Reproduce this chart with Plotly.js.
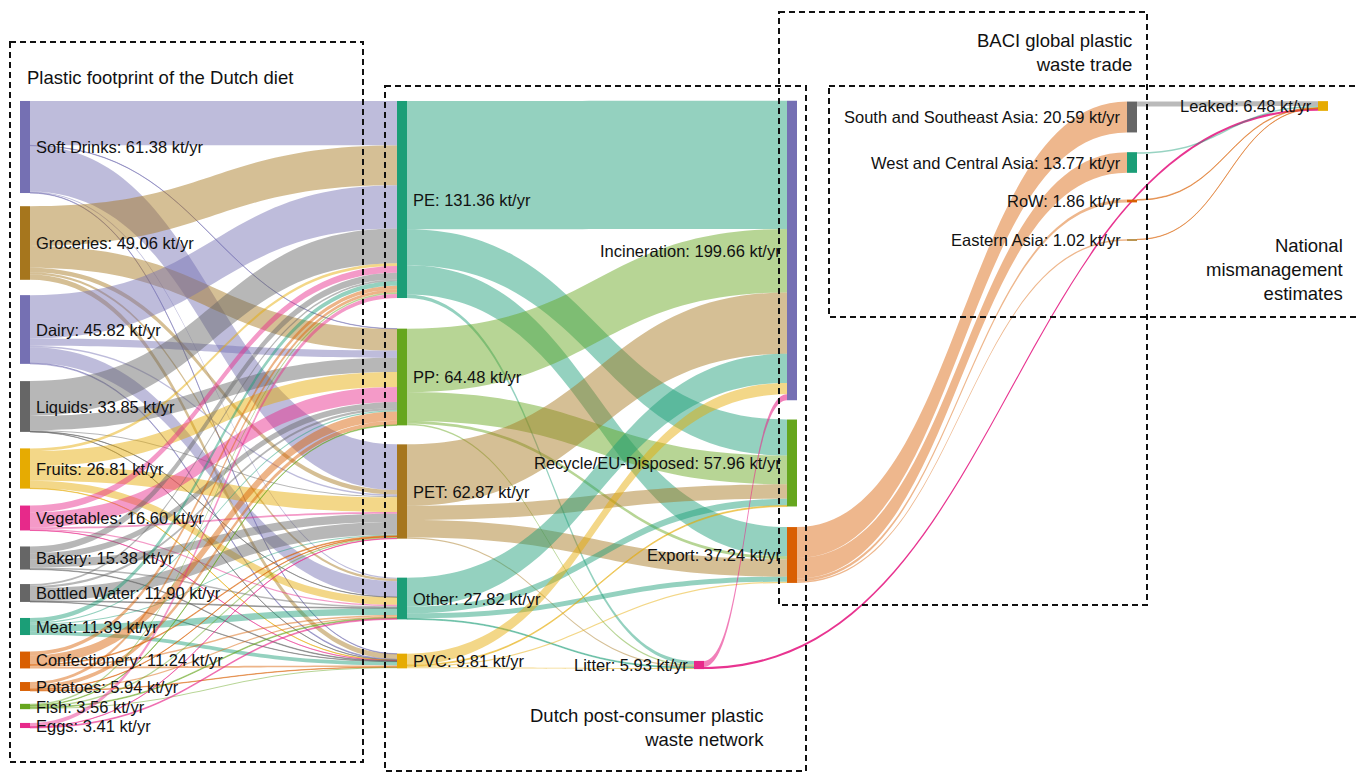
<!DOCTYPE html>
<html><head><meta charset="utf-8">
<script src="https://cdn.plot.ly/plotly-3.0.1.min.js"></script>
<style>html,body{margin:0;padding:0;background:#fff;}</style>
</head><body>
<div id="chart" style="width:1359px;height:775px;"></div>
<script>
// ---------- DATA ----------
const foodNames = ['Soft Drinks','Groceries','Dairy','Liquids','Fruits','Vegetables','Bakery','Bottled Water','Meat','Confectionery','Potatoes','Fish','Eggs'];
const foodTotals = [61.38,49.06,45.82,33.85,26.81,16.60,15.38,11.90,11.39,11.24,5.94,3.56,3.41];
const polymerNames = ['PE','PP','PET','Other','PVC'];
const polymerTotals = [131.36,64.48,62.87,27.82,9.81];
const fateNames = ['Incineration','Recycle/EU-Disposed','Export','Litter'];
const fateTotals = [199.66,57.96,37.24,5.93];
const regionNames = ['South and Southeast Asia','West and Central Asia','RoW','Eastern Asia'];
const regionTotals = [20.59,13.77,1.86,1.02];
const leakedName = 'Leaked';
const leakedTotal = 6.48;

// food -> polymer flows, columns: PE, PP, PET, Other, PVC (kt/yr)
const foodToPolymer = [
  [29.60, 0.20, 30.50, 0.80, 0.28],
  [26.56,14.44, 3.00, 1.56, 3.50],
  [28.90, 4.80, 1.00,10.60, 0.52],
  [23.20, 9.50, 0.80, 0.18, 0.17],
  [ 1.80,10.00, 9.80, 5.00, 0.21],
  [ 4.50,10.00, 1.10, 0.90, 0.10],
  [ 4.50, 4.00, 5.50, 1.00, 0.38],
  [ 1.20, 1.50, 8.50, 0.50, 0.20],
  [ 3.00, 0.80, 0.70, 4.40, 2.49],
  [ 2.50, 6.20, 0.50, 1.00, 1.04],
  [ 2.00, 2.66, 0.30, 0.74, 0.24],
  [ 1.00, 0.38, 0.96, 0.54, 0.68],
  [ 2.60, 0.00, 0.21, 0.60, 0.00]
];
// polymer -> fate flows, columns: Incineration, Recycle/EU-Disposed, Export, Litter
const polymerToFate = [
  [85.50,24.02,19.50,2.34],
  [42.30,19.20, 1.98,1.00],
  [40.90, 9.58,11.59,0.80],
  [19.40, 4.50, 3.32,0.60],
  [ 7.57, 0.66, 0.85,0.73]
];
// litter -> incineration, litter -> leaked
const litterToIncineration = 3.99;
const litterToLeaked = 1.48;
// export -> regions
const exportToRegion = [20.59,13.77,1.86,1.02];
// regions -> leaked
const regionToLeaked = [3.30,1.00,0.45,0.25];

// ---------- STYLE / POSITION ----------
const W = 1359, H = 775, TH = 10;
const C = {teal:'#1b9e77', orange:'#d95f02', purple:'#7570b3', pink:'#e7298a', green:'#66a61e', yellow:'#e6ab02', brown:'#a6761d', gray:'#666666'};
const foodColors = [C.purple,C.brown,C.purple,C.gray,C.yellow,C.pink,C.gray,C.gray,C.teal,C.orange,C.orange,C.green,C.pink];
const polymerColors = [C.teal,C.green,C.brown,C.teal,C.yellow];
const fateColors = [C.purple,C.green,C.orange,C.pink];
const regionColors = [C.gray,C.teal,C.orange,C.brown];
const regionLinkColors = [C.gray,C.teal,C.orange,C.orange];
const leakedColor = C.yellow;

const foodY = [147,243,329.5,406.5,468.5,518,558,593,626.5,660,686.5,706.5,725.5];
const polymerY = [199.5,377,491.5,598.5,661];
const fateX = [792,792,792,699];
const fateY = [250.5,463,555,665];
const regionY = [117,162.5,201,240];
const leakedXY = [1323,106];

function rgba(hex,a){const n=parseInt(hex.slice(1),16);return `rgba(${n>>16&255},${n>>8&255},${n&255},${a})`;}
const fmt = (n,v)=> `${n}: ${v.toFixed(2)} kt/yr`;

const labels=[], colors=[], px=[], py=[], side=[];
function node(lbl,col,x,y,s){labels.push(lbl);colors.push(col);px.push(x);py.push(y);side.push(s);}
foodNames.forEach((n,i)=>node(fmt(n,foodTotals[i]),foodColors[i],25,foodY[i],'r'));
const P0 = labels.length;
polymerNames.forEach((n,i)=>node(fmt(n,polymerTotals[i]),polymerColors[i],402,polymerY[i],'r'));
const F0 = labels.length;
fateNames.forEach((n,i)=>node(fmt(n,fateTotals[i]),fateColors[i],fateX[i],fateY[i],'l'));
const R0 = labels.length;
regionNames.forEach((n,i)=>node(fmt(n,regionTotals[i]),regionColors[i],1132,regionY[i],'l'));
const L0 = labels.length;
node(fmt(leakedName,leakedTotal),leakedColor,leakedXY[0],leakedXY[1],'l');

const src=[],tgt=[],val=[],lcol=[];
const A = 0.47;
function add(s,t,v,c){ if(v<=0) return; src.push(s);tgt.push(t);val.push(v);lcol.push(c); }
foodToPolymer.forEach((row,i)=>row.forEach((v,j)=>add(i,P0+j,v,rgba(foodColors[i],A))));
polymerToFate.forEach((row,i)=>row.forEach((v,j)=>add(P0+i,F0+j,v,rgba(polymerColors[i],A))));
add(F0+3,F0+0,litterToIncineration,rgba(C.pink,0.6));
add(F0+3,L0,litterToLeaked,rgba(C.pink,0.95));
exportToRegion.forEach((v,j)=>add(F0+2,R0+j,v,rgba(C.orange,0.45)));
regionToLeaked.forEach((v,i)=>add(R0+i,L0,v,rgba(regionLinkColors[i],0.45)));

const trace = {
  type:'sankey', arrangement:'fixed', orientation:'h',
  domain:{x:[0,1],y:[0,1]},
  hoverinfo:'none',
  node:{label:labels.map(()=>''),color:colors,x:px.map(v=>v/W),y:py.map(v=>v/H),pad:27.54,thickness:TH,line:{width:0},hoverinfo:'none'},
  link:{source:src,target:tgt,value:val,color:lcol,line:{width:0},hoverinfo:'none'},
  textfont:{family:'Liberation Sans, Arial, sans-serif',size:16.5,color:'#111'}
};

const FONT = 'Liberation Sans, Arial, sans-serif';
function box(x0,y0,x1,y1){return {type:'rect',xref:'paper',yref:'paper',x0:x0/W,x1:x1/W,y0:1-y0/H,y1:1-y1/H,line:{color:'#111',width:2,dash:'6px,4px'},fillcolor:'rgba(0,0,0,0)',layer:'above'};}
function note(text,x,y,anchor,size){return {text:text,xref:'paper',yref:'paper',x:x/W,y:1-y/H,xanchor:anchor,yanchor:'middle',align:anchor,showarrow:false,font:{family:FONT,size:size,color:'#111'}};}

const nodeLabels = labels.map((t,i)=> side[i]==='r'
  ? note(t, px[i]+TH/2+4, py[i], 'left', 16.5)
  : note(t, px[i]-TH/2-4, py[i], 'right', 16.5));

const layout = {
  width:W,height:H,margin:{l:0,r:0,t:0,b:0},paper_bgcolor:'#fff',
  shapes:[box(10,42,363,762),box(385,86,806,771),box(779,12,1147,605),box(829,86,1362,317)],
  annotations:nodeLabels.concat([
    note('Plastic footprint of the Dutch diet',25,78,'left',18.5),
    note('Dutch post-consumer plastic<br>waste network',766,727,'right',18.5),
    note('BACI global plastic<br>waste trade',1134,53,'right',18.5),
    note('National<br>mismanagement<br>estimates',1345,269,'right',18.5)
  ])
};
Plotly.newPlot('chart',[trace],layout,{staticPlot:true,displayModeBar:false});
</script>
</body></html>
